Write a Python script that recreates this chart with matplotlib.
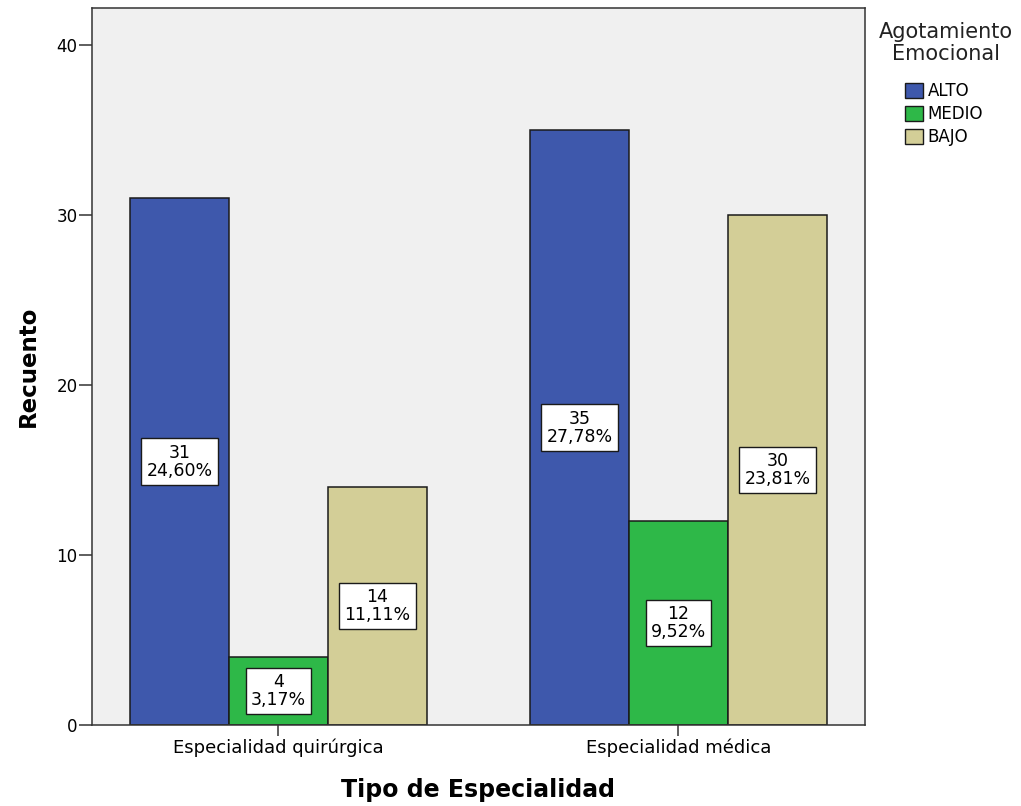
import numpy as np
import matplotlib
matplotlib.use('Agg')
import matplotlib.pyplot as plt
from matplotlib.patches import Patch

plt.rcParams['font.family'] = ['DejaVu Sans']

# datos
categorias = ['Especialidad quirúrgica', 'Especialidad médica']
niveles = ['ALTO', 'MEDIO', 'BAJO']
alto = [31, 35]
medio = [4, 12]
bajo = [14, 30]
total = 126
colores = ['#3E58AC', '#2EB848', '#D3CE97']

W, H = 1021, 806
fig = plt.figure(figsize=(W / 100, H / 100), dpi=100)
ax = fig.add_axes([0.0901, 0.1005, 0.7570, 0.8895])
ax.set_facecolor('#F0F0F0')

x = np.arange(len(categorias))
ancho = 0.2475
series = [alto, medio, bajo]
for i, (vals, col) in enumerate(zip(series, colores)):
    pos = x + (i - 1) * ancho
    ax.bar(pos, vals, width=ancho, color=col, edgecolor='#1a1a1a', linewidth=1.1, zorder=2)
    for p, v in zip(pos, vals):
        pct = f'{v / total * 100:.2f}'.replace('.', ',')
        ax.text(p, v / 2, f'{v}\n{pct}%', ha='center', va='center', fontsize=12.5,
                linespacing=1.0, zorder=3,
                bbox=dict(boxstyle='square,pad=0.3', facecolor='white', edgecolor='#1a1a1a', linewidth=1))

ax.set_xlim(-0.466, 1.466)
ax.set_ylim(0, 42.2)
ax.set_yticks([0, 10, 20, 30, 40])
ax.set_xticks(x)
ax.set_xticklabels(categorias, fontsize=13)
ax.tick_params(axis='y', labelsize=12, length=9.5, width=1.1, pad=1, color='#333333')
ax.tick_params(axis='x', length=8, width=1.1, pad=2, color='#333333')
for s in ax.spines.values():
    s.set_linewidth(1.1)
    s.set_color('#333333')

ax.set_ylabel('Recuento', fontsize=16.5, fontweight='bold', labelpad=12)
ax.set_xlabel('Tipo de Especialidad', fontsize=17, fontweight='bold', labelpad=15)

# leyenda: titulo aparte, centrado sobre las entradas
fig.text(946 / W, 1 - 22 / H, 'Agotamiento\nEmocional', ha='center', va='top',
         fontsize=15, linespacing=1.12, color='#222222')
handles = [Patch(facecolor=c, edgecolor='#1a1a1a', label=n) for c, n in zip(colores, niveles)]
leg = fig.legend(handles=handles, loc='upper left',
                 bbox_to_anchor=(905 / W, 1 - 82 / H), frameon=False, fontsize=12,
                 handlelength=1.05, handleheight=1.05, borderpad=0, borderaxespad=0,
                 handletextpad=0.3, labelspacing=0.3)

plt.savefig('out.png', dpi=100)
